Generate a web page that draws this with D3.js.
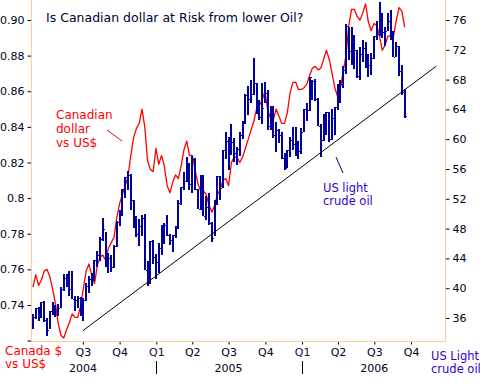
<!DOCTYPE html>
<html>
<head>
<meta charset="utf-8">
<script src="https://cdn.jsdelivr.net/npm/d3@7"></script>
<style>
  body { margin: 0; background: #fff; }
  svg { display: block; font-family: "DejaVu Sans", Verdana, sans-serif; }
</style>
</head>
<body>
<svg width="486" height="384"></svg>
<script>
// weekly bars, first week ending Fri 27 Feb 2004
var firstWeek = new Date(2004, 1, 27);

// US light crude, weekly high / low / close ($)
var oilHigh = [36.6,37.3,37.5,38.2,38.3,36.0,37.0,38.2,37.8,37.9,40.2,41.9,41.9,42.3,42.3,38.9,39.0,38.8,38.7,40.7,
  41.6,42.0,43.8,45.0,46.9,49.4,47.5,44.7,44.5,45.8,49.0,50.5,53.3,54.9,55.7,55.3,51.9,49.7,49.3,49.8,
  49.9,43.7,46.3,46.5,44.6,46.1,48.5,48.7,49.8,47.3,47.1,48.4,51.8,53.6,55.6,57.6,56.8,57.7,57.5,53.3,
  55.2,55.2,52.4,52.8,48.9,51.9,55.0,55.0,58.5,60.9,60.3,62.1,60.1,59.0,60.9,62.4,66.1,67.1,68.0,70.9,
  67.5,65.2,67.5,67.7,66.6,64.5,64.5,62.3,61.4,61.0,58.2,58.6,60.3,61.6,61.6,59.8,61.5,64.0,64.9,68.4,
  68.0,68.1,65.5,62.0,63.4,63.7,63.7,64.0,64.3,67.4,68.0,69.8,75.4,75.0,75.0,74.0,72.0,72.4,73.3,73.0,
  71.5,71.6,73.9,75.8,78.4,77.0,75.0,77.0,77.3,74.5,73.0,72.5,69.9,66.7];
var oilLow = [34.5,35.9,35.6,36.0,35.5,33.6,34.5,36.4,36.2,36.3,37.3,39.6,40.1,39.0,38.5,37.0,37.3,36.3,35.6,38.3,
  39.4,40.3,40.9,42.9,43.6,46.4,42.9,42.0,42.2,42.7,45.5,48.3,49.7,52.1,53.2,50.5,48.1,46.9,45.7,47.0,
  42.5,40.3,40.6,43.2,41.3,42.1,44.4,46.0,47.0,45.8,44.9,46.8,48.0,51.2,53.2,54.2,53.2,52.8,53.2,50.6,
  50.5,49.7,49.2,48.5,46.2,47.0,51.2,51.9,53.5,57.3,55.8,57.9,57.0,56.5,57.7,60.0,62.0,63.2,64.8,66.0,
  63.4,62.6,62.1,64.9,61.2,61.2,60.2,58.3,59.5,57.4,55.9,56.1,57.6,58.6,57.8,57.4,58.0,61.0,62.5,63.8,
  65.3,65.1,61.8,57.6,59.8,60.6,59.6,59.9,60.6,63.9,64.8,66.9,68.8,70.6,70.0,69.4,68.2,68.0,70.4,69.6,
  68.3,68.6,70.8,73.3,73.8,73.6,72.5,74.5,73.3,71.0,71.0,68.5,66.0,62.8];
var oilClose = [36.2,37.3,36.2,38.1,35.7,34.4,37.0,37.7,36.5,37.4,39.9,41.4,40.9,39.9,38.5,38.4,38.7,37.2,38.4,40.3,
  41.3,41.9,43.8,44.4,46.6,47.9,43.2,44.0,42.8,45.6,48.9,50.1,53.3,54.9,55.2,51.8,49.6,47.3,48.4,49.4,
  42.5,40.7,46.3,44.2,43.5,45.4,48.4,48.5,47.2,46.5,47.1,48.4,51.5,53.6,54.4,56.7,54.0,57.3,53.3,50.6,
  55.2,49.7,50.9,48.7,46.8,51.9,55.0,53.5,58.5,59.8,59.0,59.6,58.1,58.7,60.6,62.3,66.0,65.4,66.1,67.6,
  64.1,63.0,64.2,66.2,61.8,62.6,60.6,61.3,60.6,57.5,56.1,58.6,59.9,59.4,58.1,58.4,61.0,64.0,63.9,68.4,
  67.8,65.4,61.8,59.9,62.9,63.7,60.0,62.9,64.3,66.6,67.4,69.3,75.2,71.9,70.2,72.0,68.5,71.4,72.3,71.1,
  69.9,70.9,73.9,74.1,77.0,74.4,74.5,75.8,74.4,71.1,72.5,69.2,66.3,63.1];

// Canadian dollar in US$, same weeks
var cad = [0.750,0.757,0.751,0.754,0.759,0.760,0.756,0.749,0.741,0.730,0.723,0.7215,0.726,0.730,0.735,0.733,0.733,0.739,0.749,0.759,
  0.763,0.757,0.752,0.762,0.767,0.768,0.765,0.772,0.775,0.778,0.789,0.797,0.802,0.807,0.812,0.824,0.834,0.839,0.842,0.850,
  0.840,0.821,0.816,0.815,0.828,0.819,0.824,0.818,0.807,0.803,0.809,0.813,0.811,0.818,0.827,0.832,0.824,0.824,0.816,0.808,
  0.804,0.804,0.802,0.796,0.792,0.796,0.802,0.805,0.810,0.811,0.807,0.820,0.823,0.823,0.820,0.823,0.828,0.833,0.838,0.843,
  0.850,0.852,0.855,0.860,0.849,0.845,0.844,0.850,0.846,0.842,0.842,0.848,0.859,0.865,0.865,0.861,0.861,0.862,0.864,0.869,
  0.873,0.874,0.872,0.873,0.878,0.883,0.878,0.870,0.862,0.857,0.862,0.871,0.880,0.897,0.906,0.906,0.902,0.900,0.904,0.909,
  0.899,0.894,0.898,0.897,0.891,0.883,0.886,0.891,0.891,0.891,0.900,0.907,0.905,0.896];

// support line under oil
var trendDates = [new Date(2004, 6, 1), new Date(2006, 11, 3)];
var trendOil = [34.3, 69.8];

// axes
var cadTicks = [0.72, 0.74, 0.76, 0.78, 0.80, 0.82, 0.84, 0.86, 0.88, 0.90];
var cadTickLabels = ['', '0.74', '0.76', '0.78', '0.8', '0.82', '0.84', '0.86', '0.88', '0.90'];
var oilTicks = [36, 40, 44, 48, 52, 56, 60, 64, 68, 72, 76];
var quarterStarts = [new Date(2004,6,1), new Date(2004,9,1), new Date(2005,0,1), new Date(2005,3,1), new Date(2005,6,1),
  new Date(2005,9,1), new Date(2006,0,1), new Date(2006,3,1), new Date(2006,6,1), new Date(2006,9,1)];
var quarterLabels = ['Q3','Q4','Q1','Q2','Q3','Q4','Q1','Q2','Q3','Q4'];
var yearLabels = [{d: new Date(2004,6,1), t: '2004'}, {d: new Date(2005,6,1), t: '2005'}, {d: new Date(2006,6,1), t: '2006'}];
var yearBreaks = [new Date(2005,0,1), new Date(2006,0,1)];

var margin = {top: 0, bottom: 341, left: 31, right: 445};
var svg = d3.select('svg');

var weeks = oilHigh.map((h, i) => ({
  date: d3.timeDay.offset(firstWeek, 7 * i),
  high: h, low: oilLow[i], close: oilClose[i], cad: cad[i]
}));

//scales
var xScale = d3.scaleTime()
  .domain([new Date(2004, 1, 22), new Date(2006, 11, 25)])
  .range([margin.left, margin.right]);
var cadScale = d3.scaleLinear().domain([0.72, 0.90]).range([340.6, 20]);
var oilScale = d3.scaleLinear().domain([36, 76]).range([318, 20]);

var axisColor = '#ffcc99';
var textColor = '#000022';

// canadian dollar line
var cadLine = d3.line()
  .x(d => xScale(d.date))
  .y(d => cadScale(d.cad));
svg.append('path')
  .datum(weeks)
  .attr('d', cadLine)
  .attr('fill', 'none')
  .attr('stroke', '#ff0000')
  .attr('stroke-width', 1.3)
  .attr('stroke-linejoin', 'round');

// oil bars, snapped to whole pixels so they stay crisp
var bx = d => Math.round(xScale(d.date));
var bars = svg.append('g').attr('stroke', '#00009c');
bars.selectAll('line.hl')
  .data(weeks).enter().append('line')
  .attr('class', 'hl')
  .attr('x1', bx).attr('x2', bx)
  .attr('y1', d => Math.round(oilScale(d.high))).attr('y2', d => Math.round(oilScale(d.low)))
  .attr('stroke-width', 2);
bars.selectAll('line.cl')
  .data(weeks).enter().append('line')
  .attr('class', 'cl')
  .attr('x1', d => bx(d) + 1).attr('x2', d => bx(d) + 2)
  .attr('y1', d => Math.round(oilScale(d.close)) + 0.5).attr('y2', d => Math.round(oilScale(d.close)) + 0.5)
  .attr('stroke-width', 1);

// trend line
svg.append('line')
  .attr('x1', xScale(trendDates[0])).attr('y1', oilScale(trendOil[0]))
  .attr('x2', xScale(trendDates[1])).attr('y2', oilScale(trendOil[1]))
  .attr('stroke', '#000')
  .attr('stroke-width', 1);

// left axis
var leftAxis = d3.axisLeft(cadScale)
  .tickValues(cadTicks)
  .tickFormat((d, i) => cadTickLabels[i])
  .tickSize(4).tickPadding(3);
var gl = svg.append('g')
  .attr('transform', 'translate(' + [margin.left + 0.5, 0] + ')')
  .call(leftAxis);
gl.select('.domain').remove();
gl.selectAll('.tick line').attr('stroke', textColor);
gl.selectAll('.tick text').attr('fill', textColor).style('font-size', '11px').style('font-family', '"DejaVu Sans", sans-serif');

// right axis
var rightAxis = d3.axisRight(oilScale)
  .tickValues(oilTicks)
  .tickSize(4).tickPadding(3);
var gr = svg.append('g')
  .attr('transform', 'translate(' + [margin.right + 0.5, 0] + ')')
  .call(rightAxis);
gr.select('.domain').remove();
gr.selectAll('.tick line').attr('stroke', textColor);
gr.selectAll('.tick text').attr('fill', textColor).style('font-size', '11px').style('font-family', '"DejaVu Sans", sans-serif');

// bottom axis
var bottomAxis = d3.axisBottom(xScale)
  .tickValues(quarterStarts)
  .tickFormat((d, i) => quarterLabels[i])
  .tickSize(3).tickPadding(4);
var gb = svg.append('g')
  .attr('transform', 'translate(' + [0, margin.bottom + 0.5] + ')')
  .call(bottomAxis);
gb.select('.domain').remove();
gb.selectAll('.tick line').attr('stroke', textColor);
gb.selectAll('.tick text')
  .attr('fill', (d, i) => quarterLabels[i] === 'Q1' ? '#330044' : textColor)
  .style('font-size', '11px').style('font-family', '"DejaVu Sans", sans-serif');

svg.selectAll('text.year')
  .data(yearLabels).enter().append('text')
  .attr('class', 'year')
  .attr('x', d => xScale(d.d)).attr('y', 372)
  .attr('text-anchor', 'middle')
  .attr('fill', textColor)
  .style('font-size', '11px')
  .text(d => d.t);
svg.selectAll('line.ybreak')
  .data(yearBreaks).enter().append('line')
  .attr('class', 'ybreak')
  .attr('x1', d => Math.round(xScale(d)) + 0.5).attr('x2', d => Math.round(xScale(d)) + 0.5)
  .attr('y1', 361).attr('y2', 374)
  .attr('stroke', '#000');

// frame lines (left, right, bottom)
var frame = svg.append('g').attr('stroke', axisColor).attr('fill', 'none');
frame.append('path')
  .attr('d', 'M' + (margin.left + 0.5) + ',0V' + (margin.bottom + 0.5) + 'H' + (margin.right + 0.5) + 'V0');

// title and labels
svg.append('text')
  .attr('x', 46).attr('y', 22)
  .attr('fill', '#000033')
  .style('font-size', '12.5px')
  .text('Is Canadian dollar at Risk from lower Oil?');

var redLabel = svg.append('text').attr('fill', '#ff0000').style('font-size', '12px');
redLabel.append('tspan').attr('x', 56).attr('y', 119).text('Canadian');
redLabel.append('tspan').attr('x', 56).attr('y', 133).text('dollar');
redLabel.append('tspan').attr('x', 56).attr('y', 147).text('vs US$');
svg.append('line').attr('x1', 107).attr('y1', 130).attr('x2', 122).attr('y2', 141)
  .attr('stroke', '#ff0000');

var blueLabel = svg.append('text').attr('fill', '#3300cc').style('font-size', '11.5px');
blueLabel.append('tspan').attr('x', 323).attr('y', 192).text('US light');
blueLabel.append('tspan').attr('x', 323).attr('y', 205).text('crude oil');
svg.append('line').attr('x1', 336).attr('y1', 157).attr('x2', 343).attr('y2', 173)
  .attr('stroke', '#000066');

var redAxisLabel = svg.append('text').attr('fill', '#ff0000').style('font-size', '12px');
redAxisLabel.append('tspan').attr('x', 5).attr('y', 355).text('Canada $');
redAxisLabel.append('tspan').attr('x', 5).attr('y', 368).text('vs US$');

var blueAxisLabel = svg.append('text').attr('fill', '#3300cc').style('font-size', '11.5px');
blueAxisLabel.append('tspan').attr('x', 431).attr('y', 360).text('US Light');
blueAxisLabel.append('tspan').attr('x', 431).attr('y', 373).text('crude oil');
</script>
</body>
</html>
